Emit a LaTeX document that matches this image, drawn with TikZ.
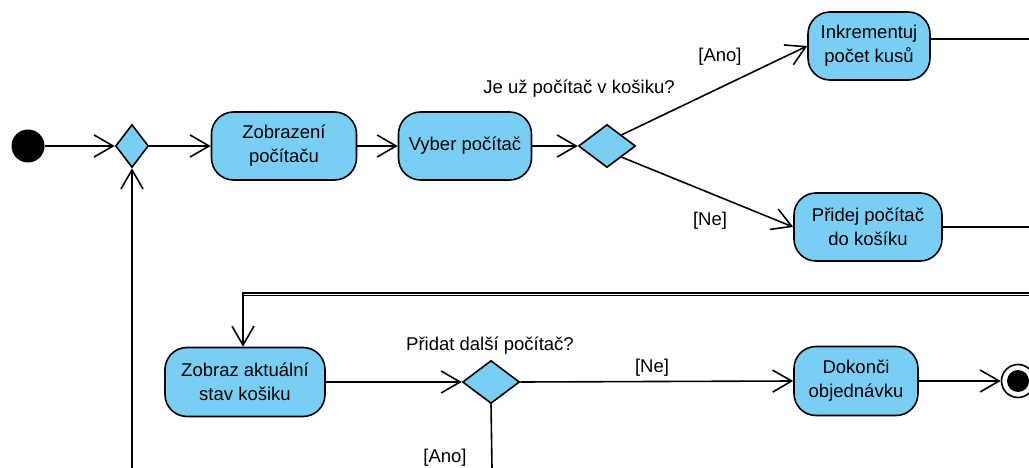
\documentclass[tikz,border=0pt]{standalone}
\usepackage{fontspec}
\setmainfont{Liberation Sans}
\usetikzlibrary{arrows.meta,shapes.geometric}
\definecolor{actfill}{HTML}{79CFF3}
\begin{document}
\begin{tikzpicture}[x=1pt,y=-1pt,
  every node/.style={font=\fontsize{18.5}{24}\selectfont},
  act/.style={draw=black,line width=1.6pt,fill=actfill,rounded corners=22pt,
    align=center,inner sep=0pt},
  dec/.style={draw=black,line width=1.6pt,fill=actfill,diamond,inner sep=0pt},
  flow/.style={line width=1.6pt,-{Straight Barb[length=19pt,width=22pt,line width=1.6pt]}},
  plain/.style={line width=1.6pt},
  lbl/.style={inner sep=0pt}]
\useasboundingbox (0,0) rectangle (1029,468);
% nodes
\node[circle,fill=black,minimum size=33pt,inner sep=0pt] (start) at (28,146) {};
\node[dec,minimum width=33pt,minimum height=43pt] (d1) at (132,146) {};
\node[act,minimum width=145pt,minimum height=68pt] (zob) at (284,146) {Zobrazení\\počítaču};
\node[act,minimum width=133pt,minimum height=68pt] (vyb) at (465,146) {Vyber počítač};
\node[dec,minimum width=57pt,minimum height=43pt] (d2) at (607,146) {};
\node[act,minimum width=122pt,minimum height=68pt] (ink) at (869,46) {Inkrementuj\\počet kusů};
\node[act,minimum width=148pt,minimum height=68pt] (pri) at (868,227) {Přidej počítač\\do košíku};
\node[act,minimum width=160pt,minimum height=69pt] (zak) at (245,382) {Zobraz aktuální\\stav košiku};
\node[dec,minimum width=57pt,minimum height=43pt] (d3) at (491,382) {};
\node[act,minimum width=124pt,minimum height=69pt] (dok) at (856,381) {Dokonči\\objednávku};
\node[circle,draw=black,line width=1.6pt,fill=white,minimum size=33pt,inner sep=0pt] (endo) at (1018,381) {};
\node[circle,fill=black,minimum size=22pt,inner sep=0pt] (endi) at (1018,381) {};
% labels
\node[lbl] (q1) at (579,89) {Je už počítač v košiku?};
\node[lbl] (la1) at (720,57) {[Ano]};
\node[lbl] (ln1) at (710,221) {[Ne]};
\node[lbl] (q2) at (490,346) {Přidat další počítač?};
\node[lbl] (ln2) at (652,368) {[Ne]};
\node[lbl] (la2) at (445,458) {[Ano]};
% edge coordinates
\coordinate (e1) at (1029,39);
\coordinate (e2) at (1029,227);
\coordinate (e3) at (1029,293);
\coordinate (e4) at (1029,295.5);
\coordinate (c3) at (243,293);
\coordinate (c4) at (243,295.5);
\coordinate (b1) at (132,468);
\coordinate (b2) at (492,468);
% connectors
\draw[flow] (start) -- (d1.west);
\draw[flow] (d1.east) -- (zob.west);
\draw[flow] (zob.east) -- (vyb.west);
\draw[flow] (vyb.east) -- (d2.west);
\draw[flow] (d2.north east) -- (ink.west);
\draw[flow] (d2.south east) -- (pri.west);
\draw[plain] (ink.east |- e1) -- (e1);
\draw[plain] (pri.east) -- (e2);
\draw[plain,line width=1.3pt] (e4) -- (c4);
\draw[flow] (e3) -- (c3) -- (zak.north -| c3);
\draw[flow] (zak.east) -- (d3.west);
\draw[flow] (d3.east) -- (dok.west);
\draw[flow] (dok.east) -- (endo.west);
\draw[plain] (d3.south) -- (b2);
\draw[flow] (b1) -- (d1.south);
\end{tikzpicture}
\end{document}
